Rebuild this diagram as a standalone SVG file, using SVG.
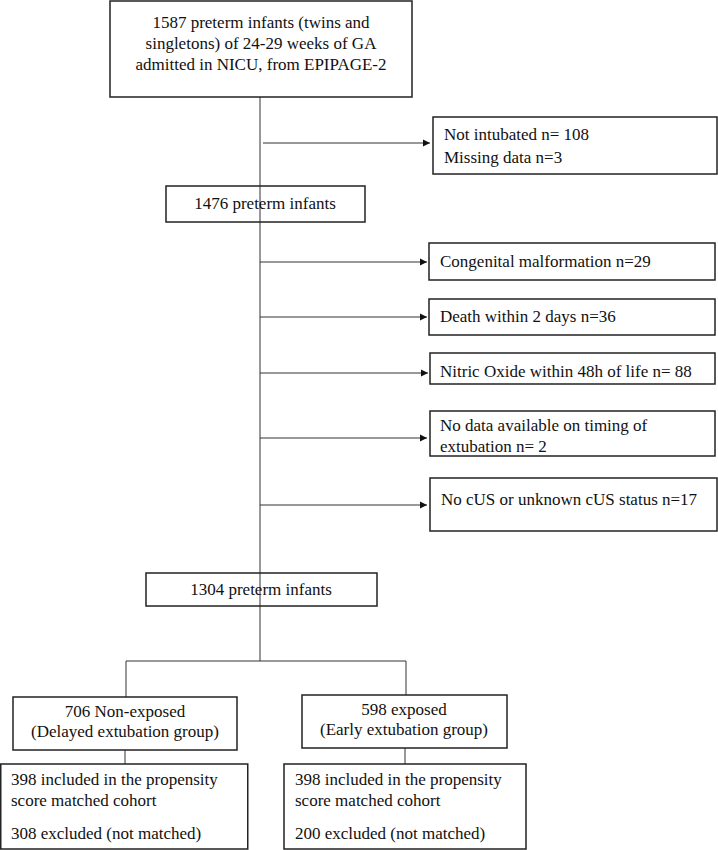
<svg xmlns="http://www.w3.org/2000/svg" width="718" height="850" viewBox="0 0 718 850">
<style>
.box{fill:none;stroke:#222;stroke-width:1.5}
.t{font-family:"Liberation Serif","Times New Roman",serif;font-size:17px;fill:#111}
.c{text-anchor:middle}
.ln{stroke:#333;stroke-width:1;fill:none}
</style>
<defs>
<marker id="ah" markerWidth="8" markerHeight="8" refX="7" refY="4" orient="auto" markerUnits="userSpaceOnUse">
<path d="M0,0.5 L7,4 L0,7.5 Z" fill="#111"/>
</marker>
</defs>
<g id="connectors">
<line class="ln" x1="260" y1="97" x2="260" y2="661"/>
<line class="ln" x1="263" y1="143" x2="430" y2="143" marker-end="url(#ah)"/>
<line class="ln" x1="260" y1="262" x2="427" y2="262" marker-end="url(#ah)"/>
<line class="ln" x1="260" y1="317" x2="427" y2="317" marker-end="url(#ah)"/>
<line class="ln" x1="260" y1="373" x2="428" y2="373" marker-end="url(#ah)"/>
<line class="ln" x1="260" y1="438" x2="427" y2="438" marker-end="url(#ah)"/>
<line class="ln" x1="260" y1="505" x2="427" y2="505" marker-end="url(#ah)"/>
<line class="ln" x1="126" y1="661" x2="406" y2="661" stroke-width="1.5"/>
<line class="ln" x1="126" y1="661" x2="126" y2="697"/>
<line class="ln" x1="406" y1="661" x2="406" y2="695"/>
<line class="ln" x1="125" y1="750" x2="125" y2="764"/>
<line class="ln" x1="405" y1="748" x2="405" y2="764"/>
</g>
<g id="n-top">
<rect class="box" x="110" y="1" width="302" height="96"/>
<text class="t c" x="261" y="28">1587 preterm infants (twins and</text>
<text class="t c" x="261" y="49">singletons) of 24-29 weeks of GA</text>
<text class="t c" x="261" y="70">admitted in NICU, from EPIPAGE-2</text>
</g>
<g id="n-notintubated">
<rect class="box" x="433" y="117" width="284" height="57"/>
<text class="t" x="444" y="140">Not intubated n= 108</text>
<text class="t" x="444" y="163">Missing data n=3</text>
</g>
<g id="n-1476">
<rect class="box" x="166" y="186" width="199" height="36"/>
<text class="t c" x="265" y="209">1476 preterm infants</text>
</g>
<g id="n-congenital">
<rect class="box" x="429" y="243" width="286" height="37"/>
<text class="t" x="440" y="267">Congenital malformation n=29</text>
</g>
<g id="n-death">
<rect class="box" x="429" y="299" width="286" height="36"/>
<text class="t" x="440" y="322">Death within 2 days n=36</text>
</g>
<g id="n-nitric">
<rect class="box" x="430" y="353" width="285" height="31"/>
<text class="t" x="440" y="377">Nitric Oxide within 48h of life n= 88</text>
</g>
<g id="n-nodata">
<rect class="box" x="430" y="411" width="285" height="45"/>
<text class="t" x="440" y="431">No data available on timing of</text>
<text class="t" x="440" y="452">extubation n= 2</text>
</g>
<g id="n-nocus">
<rect class="box" x="430" y="478" width="287" height="53"/>
<text class="t" x="441" y="505">No cUS or unknown cUS status n=17</text>
</g>
<g id="n-1304">
<rect class="box" x="146" y="573" width="231" height="33"/>
<text class="t c" x="261" y="595">1304 preterm infants</text>
</g>
<g id="n-nonexposed">
<rect class="box" x="13" y="697" width="224" height="53"/>
<text class="t c" x="125" y="717">706 Non-exposed</text>
<text class="t c" x="125" y="737">(Delayed extubation group)</text>
</g>
<g id="n-exposed">
<rect class="box" x="302" y="695" width="205" height="53"/>
<text class="t c" x="404" y="715">598 exposed</text>
<text class="t c" x="404" y="735">(Early extubation group)</text>
</g>
<g id="n-left-matched">
<rect class="box" x="0.75" y="764" width="247" height="85"/>
<text class="t" x="11" y="785">398 included in the propensity</text>
<text class="t" x="11" y="806">score matched cohort</text>
<text class="t" x="11" y="839">308 excluded (not matched)</text>
</g>
<g id="n-right-matched">
<rect class="box" x="284" y="764" width="242" height="85"/>
<text class="t" x="295" y="785">398 included in the propensity</text>
<text class="t" x="295" y="806">score matched cohort</text>
<text class="t" x="295" y="839">200 excluded (not matched)</text>
</g>
</svg>
